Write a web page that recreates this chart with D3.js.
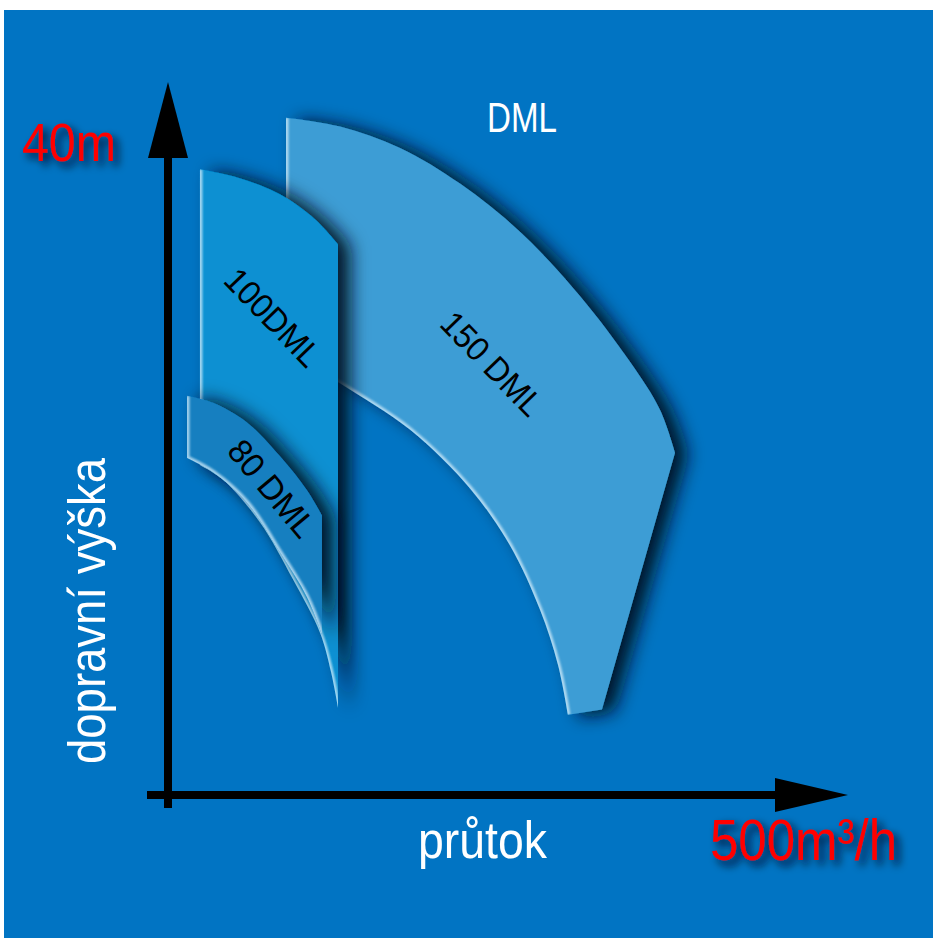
<!DOCTYPE html>
<html>
<head>
<meta charset="utf-8">
<script src="https://cdn.jsdelivr.net/npm/d3@7"></script>
<style>
  html, body { margin: 0; padding: 0; background: #ffffff; }
  svg { display: block; }
</style>
</head>
<body>
<script>
// Pump operating ranges: flow (m³/h) on x, head (m) on y.
const xMax = 500;            // m³/h at the end of the flow axis
const yMax = 40;             // m at the end of the head axis

const axisLabels = { x: "průtok", y: "dopravní výška", xEnd: "500m³/h", yEnd: "40m", title: "DML" };

// 150 DML range: upper curve, right edge, lower curve (right -> left)
const dml150Top = [[86.8, 38.0], [126.5, 37.5], [170.6, 36.3], [214.7, 34.3], [258.8, 31.6], [302.9, 28.0], [339.7, 24.3], [361.8, 21.6], [372.8, 19.2]];
const dml150Right = [[319.1, 4.8]];
const dml150Bottom = [[294.1, 4.5], [286.8, 7.3], [273.5, 10.4], [251.5, 14.0], [222.1, 17.2], [177.9, 20.5], [126.5, 23.1], [86.8, 25.0]];

// 100 DML range
const dml100Top = [[23.5, 35.1], [52.9, 34.6], [82.4, 33.7], [108.1, 32.3], [125.0, 30.9]];
const dml100Right = [[125.0, 4.9]];
const dml100Bottom = [[125.0, 4.9], [119.9, 6.9], [111.8, 9.1], [91.9, 12.1], [67.6, 15.3], [40.4, 17.7], [23.5, 18.5]];

// 80 DML range
const dml80Top = [[14.0, 22.4], [33.1, 22.0], [58.1, 20.9], [82.4, 19.0], [102.2, 17.1], [113.2, 15.7]];
const dml80Right = [[113.2, 9.0]];
const dml80Bottom = [[113.2, 9.0], [102.2, 11.1], [82.4, 13.6], [58.1, 16.4], [33.1, 18.1], [14.0, 18.9]];

// label name, anchor point (flow, head), rotation and drawn length
const rangeNames = ["150 DML", "100DML", "80 DML"];
const rangeLabelPos = [[238.2, 24.2], [77.2, 26.8], [76.5, 17.2]];
const rangeLabelAngle = [46, 46, 50];
const rangeLabelLength = [130, 122, 116];
const rangeFills = ["#3d9dd5", "#0790d2", "#157fc0"];

const W = 933, H = 938;
const svg = d3.select("body").append("svg").attr("width", W).attr("height", H);

const x = d3.scaleLinear().domain([0, xMax]).range([168, 848]);
const y = d3.scaleLinear().domain([0, yMax]).range([795, 82]);

const defs = svg.append("defs");

// soft dark shadow cast to the right of each range
const sh = defs.append("filter").attr("id", "rangeShadow")
  .attr("x", "-20%").attr("y", "-20%").attr("width", "160%").attr("height", "140%");
sh.append("feGaussianBlur").attr("in", "SourceAlpha").attr("stdDeviation", 9).attr("result", "b");
sh.append("feOffset").attr("in", "b").attr("dx", 12).attr("dy", 2).attr("result", "o");
sh.append("feFlood").attr("flood-color", "#00101f").attr("flood-opacity", 0.95);
sh.append("feComposite").attr("in2", "o").attr("operator", "in").attr("result", "s");
const m1 = sh.append("feMerge");
m1.append("feMergeNode").attr("in", "s");
m1.append("feMergeNode").attr("in", "SourceGraphic");

// shadow behind the red axis-end labels
const ts = defs.append("filter").attr("id", "textShadow")
  .attr("x", "-20%").attr("y", "-30%").attr("width", "150%").attr("height", "170%");
ts.append("feGaussianBlur").attr("in", "SourceAlpha").attr("stdDeviation", 4).attr("result", "b");
ts.append("feOffset").attr("in", "b").attr("dx", 5).attr("dy", 5).attr("result", "o");
ts.append("feFlood").attr("flood-color", "#000c18").attr("flood-opacity", 0.9);
ts.append("feComposite").attr("in2", "o").attr("operator", "in").attr("result", "s");
const m2 = ts.append("feMerge");
m2.append("feMergeNode").attr("in", "s");
m2.append("feMergeNode").attr("in", "SourceGraphic");

const hb = defs.append("filter").attr("id", "soft");
hb.append("feGaussianBlur").attr("stdDeviation", 0.8);

// background panel
svg.append("rect").attr("x", 4).attr("y", 10).attr("width", W - 4).attr("height", H - 10).attr("fill", "#0174c3");

const curve = d3.line().x(d => x(d[0])).y(d => y(d[1])).curve(d3.curveCatmullRom.alpha(0.5));

function outline(top, right, bottom) {
  let p = curve(top);
  right.forEach(d => { p += "L" + x(d[0]) + "," + y(d[1]); });
  p += curve(bottom).replace(/^M/, "L");
  return p + "Z";
}
function rim(top, bottom) {
  return curve(bottom) + "L" + x(top[0][0]) + "," + y(top[0][1]);
}

const ranges = [
  { top: dml150Top, right: dml150Right, bottom: dml150Bottom },
  { top: dml100Top, right: dml100Right, bottom: dml100Bottom },
  { top: dml80Top, right: dml80Right, bottom: dml80Bottom }
];

ranges.forEach((r, i) => {
  const d = outline(r.top, r.right, r.bottom);
  defs.append("clipPath").attr("id", "clip" + i).append("path").attr("d", d);
  const g = svg.append("g").attr("filter", "url(#rangeShadow)");
  g.append("path").attr("d", d).attr("fill", rangeFills[i]);
  // pale bevel along the left edge and lower curve
  g.append("path").attr("d", rim(r.top, r.bottom))
    .attr("fill", "none").attr("stroke", "#d6eefb").attr("stroke-width", 5)
    .attr("stroke-opacity", 0.75).attr("clip-path", "url(#clip" + i + ")")
    .attr("filter", "url(#soft)");
});

const narrow = "'Liberation Sans Narrow', 'Arial Narrow', 'Liberation Sans', Arial, sans-serif";

// range labels
rangeNames.forEach((name, i) => {
  const px = x(rangeLabelPos[i][0]), py = y(rangeLabelPos[i][1]);
  svg.append("text")
    .attr("transform", `translate(${px - rangeLabelLength[i] / 2 * Math.cos(rangeLabelAngle[i] * Math.PI / 180)},${py - rangeLabelLength[i] / 2 * Math.sin(rangeLabelAngle[i] * Math.PI / 180)}) rotate(${rangeLabelAngle[i]})`)
    .attr("dy", "0.35em")
    .attr("font-family", narrow).attr("font-size", 34).attr("fill", "#000")
    .attr("textLength", rangeLabelLength[i]).attr("lengthAdjust", "spacingAndGlyphs")
    .text(name);
});

// axes with arrow heads
const axes = svg.append("g").attr("fill", "#000").attr("stroke", "#000");
axes.append("line").attr("x1", x(0)).attr("x2", x(0)).attr("y1", y(0) + 13).attr("y2", y(yMax) + 60)
  .attr("stroke-width", 8);
axes.append("line").attr("x1", x(0) - 21).attr("x2", x(xMax) - 60).attr("y1", y(0)).attr("y2", y(0))
  .attr("stroke-width", 8);
axes.append("path").attr("stroke", "none")
  .attr("d", `M${x(0)},${y(yMax)}L${x(0) + 20},${y(yMax) + 76}L${x(0) - 20},${y(yMax) + 76}Z`);
axes.append("path").attr("stroke", "none")
  .attr("d", `M${x(xMax)},${y(0)}L${x(xMax) - 73},${y(0) - 17}L${x(xMax) - 73},${y(0) + 17}Z`);

// axis texts
svg.append("text").attr("x", 22).attr("y", 161)
  .attr("font-family", narrow).attr("font-size", 54).attr("fill", "#ff0000")
  .attr("textLength", 94).attr("lengthAdjust", "spacingAndGlyphs")
  .attr("filter", "url(#textShadow)").text(axisLabels.yEnd);

svg.append("text").attr("x", 710).attr("y", 860)
  .attr("font-family", narrow).attr("font-size", 58).attr("fill", "#ff0000")
  .attr("textLength", 187).attr("lengthAdjust", "spacingAndGlyphs")
  .attr("filter", "url(#textShadow)").text(axisLabels.xEnd);

svg.append("text").attr("x", 418).attr("y", 858)
  .attr("font-family", narrow).attr("font-size", 52).attr("fill", "#ffffff")
  .attr("textLength", 129).attr("lengthAdjust", "spacingAndGlyphs")
  .text(axisLabels.x);

svg.append("text").attr("transform", "translate(105,764) rotate(-90)")
  .attr("font-family", narrow).attr("font-size", 52).attr("fill", "#ffffff")
  .attr("textLength", 306).attr("lengthAdjust", "spacingAndGlyphs")
  .text(axisLabels.y);

svg.append("text").attr("x", 487).attr("y", 132)
  .attr("font-family", narrow).attr("font-size", 42).attr("fill", "#ffffff")
  .attr("textLength", 70).attr("lengthAdjust", "spacingAndGlyphs")
  .text(axisLabels.title);
</script>
</body>
</html>
